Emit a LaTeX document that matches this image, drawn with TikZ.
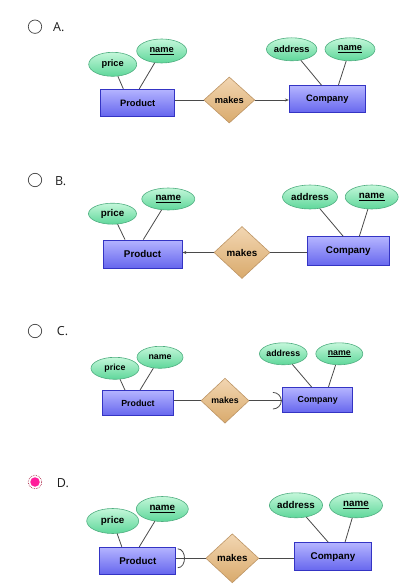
\documentclass[tikz,border=0pt]{standalone}
\usepackage{fontspec}
\setsansfont{Liberation Sans}
\newfontfamily\choicefont{Open Sans}
\usetikzlibrary{shapes.geometric,arrows.meta}

\definecolor{enttop}{HTML}{B4B4FF}
\definecolor{entbot}{HTML}{6666EE}
\definecolor{entline}{HTML}{3434C4}
\definecolor{attrtop}{HTML}{C4F7DA}
\definecolor{attrbot}{HTML}{5ED79A}
\definecolor{attrline}{HTML}{4FAE80}
\definecolor{reltop}{HTML}{F2D6B2}
\definecolor{relbot}{HTML}{D9AA6C}
\definecolor{relline}{HTML}{BD9565}
\definecolor{connline}{HTML}{4A4A4A}
\definecolor{radioline}{HTML}{444444}
\definecolor{choicetext}{HTML}{1E1E1E}
\definecolor{pick}{HTML}{FF1C9A}
\definecolor{focusring}{HTML}{B03050}

\tikzset{
  ent/.style={draw=entline, line width=0.8pt, top color=enttop, bottom color=entbot, inner sep=0pt},
  attr/.style={ellipse, draw=attrline, line width=0.6pt, top color=attrtop, bottom color=attrbot, inner sep=0pt},
  rel/.style={diamond, draw=relline, line width=0.6pt, top color=reltop, bottom color=relbot, inner sep=0pt},
  conn/.style={draw=connline, line width=0.8pt},
  radio/.style={circle, draw=radioline, line width=0.7pt, fill=white, minimum size=13.4pt, inner sep=0pt},
  choice/.style={anchor=base west, inner sep=0pt, font=\choicefont\fontsize{12.5}{13}\selectfont, text=choicetext},
}

\begin{document}
\begin{tikzpicture}[x=1pt, y=-1pt]
    \useasboundingbox (0,0) rectangle (413,588);

    % option A
    \node[radio] (optA) at (35,26.7) {};
    \node[choice] (letA) at (53,31.7) {A.};
    \begin{scope}[font=\sffamily\bfseries\fontsize{9.3}{10}\selectfont]
    \node[attr, minimum width=48, minimum height=24] (priceA) at (112.7,64.3) {price};
    \node[attr, minimum width=50, minimum height=24] (nameA) at (161.7,51) {\underline{name}};
    \node[ent, minimum width=74, minimum height=27] (prodA) at (137.7,102.7) {Product};
    \node[rel, minimum width=51, minimum height=46] (makesA) at (229.3,100) {makes};
    \node[ent, minimum width=76, minimum height=27] (compA) at (327.3,99.3) {Company};
    \node[attr, minimum width=49, minimum height=23] (addrA) at (291.7,49.3) {address};
    \node[attr, minimum width=50, minimum height=23] (cnameA) at (350,49.3) {\underline{name}};
    \end{scope}
    \draw[conn] (priceA) -- ([xshift=-14.4]prodA.north);
    \draw[conn] (nameA) -- ([xshift=1.6]prodA.north);
    \draw[conn] (addrA) -- ([xshift=-5.6]compA.north);
    \draw[conn] (cnameA) -- ([xshift=11]compA.north);
    \draw[conn] (makesA.west) -- (makesA.west -| prodA.east);
    \draw[conn, -{Stealth[length=4pt, width=3pt]}] (makesA.east) -- (makesA.east -| compA.west);

    % option B
    \node[radio] (optB) at (35,180) {};
    \node[choice] (letB) at (55,185.7) {B.};
    \begin{scope}[font=\sffamily\bfseries\fontsize{9.8}{10}\selectfont]
    \node[attr, minimum width=48, minimum height=21] (priceB) at (112.5,213.7) {price};
    \node[attr, minimum width=53, minimum height=22] (nameB) at (168.3,199) {\underline{name}};
    \node[ent, minimum width=79, minimum height=28] (prodB) at (142.5,254) {Product};
    \node[rel, minimum width=56, minimum height=52] (makesB) at (242,252.5) {makes};
    \node[ent, minimum width=82, minimum height=29] (compB) at (348.3,251.3) {Company};
    \node[attr, minimum width=55, minimum height=24] (addrB) at (310,197) {address};
    \node[attr, minimum width=53, minimum height=24] (cnameB) at (371.7,197) {\underline{name}};
    \end{scope}
    \draw[conn] (priceB) -- ([xshift=-17.5]prodB.north);
    \draw[conn] (nameB) -- ([xshift=0.8]prodB.north);
    \draw[conn] (addrB) -- ([xshift=-5]compB.north);
    \draw[conn] (cnameB) -- ([xshift=11]compB.north);
    \draw[conn, -{Stealth[length=4pt, width=3pt]}] (makesB.west) -- (makesB.west -| prodB.east);
    \draw[conn] (makesB.east) -- (makesB.east -| compB.west);

    % option C
    \node[radio] (optC) at (35,331) {};
    \node[choice] (letC) at (56.7,335.7) {C.};
    \begin{scope}[font=\sffamily\bfseries\fontsize{8.8}{10}\selectfont]
    \node[attr, minimum width=48, minimum height=22] (priceC) at (115,368.3) {price};
    \node[attr, minimum width=46, minimum height=22] (nameC) at (160,357.3) {name};
    \node[ent, minimum width=71, minimum height=25] (prodC) at (138,403) {Product};
    \node[rel, minimum width=48, minimum height=45] (makesC) at (225,400.7) {makes};
    \node[ent, minimum width=70, minimum height=25] (compC) at (317.7,400) {Company};
    \node[attr, minimum width=47, minimum height=22] (addrC) at (283.3,353.8) {address};
    \node[attr, minimum width=47, minimum height=22] (cnameC) at (339.3,353.8) {\underline{name}};
    \end{scope}
    \draw[conn] (priceC) -- ([xshift=-13]prodC.north);
    \draw[conn] (nameC) -- ([xshift=2]prodC.north);
    \draw[conn] (addrC) -- ([xshift=-6]compC.north);
    \draw[conn] (cnameC) -- ([xshift=10.7]compC.north);
    \draw[conn] (makesC.west) -- (makesC.west -| prodC.east);
    \coordinate (cfC) at (makesC.east -| compC.west);
    \draw[conn] (makesC.east) -- (cfC);
    \draw[conn] ([shift={(-9.4,-8.3)}]cfC) to[out=0, in=90] ([xshift=-1]cfC)
        to[out=-90, in=0] ([shift={(-9.4,8.3)}]cfC);

    % option D
    \node[radio, draw=focusring, densely dotted] (optD) at (35,482) {};
    \node[circle, fill=pick, minimum size=9.5pt, inner sep=0pt] (pickD) at (optD) {};
    \node[choice] (letD) at (56.7,487) {D.};
    \begin{scope}[font=\sffamily\bfseries\fontsize{9.8}{10}\selectfont]
    \node[attr, minimum width=52, minimum height=25] (priceD) at (112.7,521) {price};
    \node[attr, minimum width=52, minimum height=25] (nameD) at (162.3,509) {\underline{name}};
    \node[ent, minimum width=76, minimum height=27] (prodD) at (137.8,560.7) {Product};
    \node[rel, minimum width=53, minimum height=49] (makesD) at (232.3,558.3) {makes};
    \node[ent, minimum width=77, minimum height=28] (compD) at (333,556.7) {Company};
    \node[attr, minimum width=53, minimum height=25] (addrD) at (296,505.3) {address};
    \node[attr, minimum width=53, minimum height=25] (cnameD) at (356,505.3) {\underline{name}};
    \end{scope}
    \draw[conn] (priceD) -- ([xshift=-16]prodD.north);
    \draw[conn] (nameD) -- ([xshift=1.5]prodD.north);
    \draw[conn] (addrD) -- ([xshift=-4.7]compD.north);
    \draw[conn] (cnameD) -- ([xshift=12]compD.north);
    \coordinate (cfD) at (makesD.west -| prodD.east);
    \draw[conn] (makesD.west) -- (cfD);
    \draw[conn] (makesD.east) -- (makesD.east -| compD.west);
    \draw[conn] ([shift={(1.5,-9.5)}]cfD) to[out=0, in=90] ([xshift=8.3]cfD)
        to[out=-90, in=0] ([shift={(1.5,9.5)}]cfD);
\end{tikzpicture}
\end{document}
